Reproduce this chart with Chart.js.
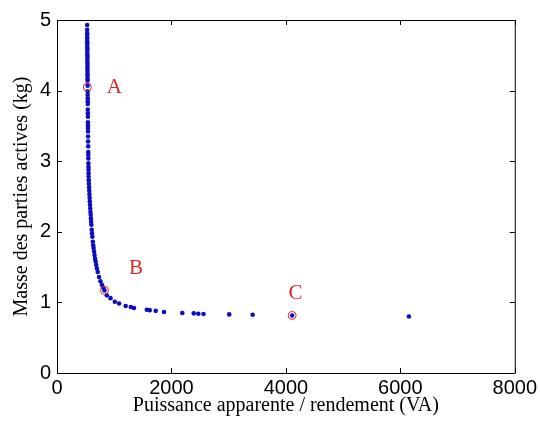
<!DOCTYPE html>
<html>
<head>
<meta charset="utf-8">
<script src="https://cdn.jsdelivr.net/npm/chart.js@4.4.1/dist/chart.umd.min.js"></script>
<style>
  html, body { margin: 0; padding: 0; background: #fff; }
  #graphe { display: block; }
</style>
</head>
<body>
<canvas id="graphe" width="540" height="426"></canvas>
<script>
// Puissance apparente / rendement (VA) et masse des parties actives (kg)
const puissance = [
  527, 527, 528, 528, 528, 529, 529, 529, 530, 530, 530, 531, 531, 531, 532, 532,
  532, 533, 533, 533, 534, 534, 535, 536, 536, 537, 537, 538, 538, 539, 540, 540,
  541, 541, 542, 543, 544, 545, 546, 547, 548, 549, 550, 551, 552, 553, 555,
  558, 561, 564, 567, 570, 573, 577, 581, 585, 589, 593, 597, 601, 607, 612,
  618, 626, 633, 640, 648, 656, 665, 675, 686, 698, 712, 735, 760, 785, 805,
  830, 870, 935, 1010, 1085, 1200, 1290, 1345, 1570, 1620, 1725, 1870,
  2190, 2390, 2470, 2560, 3010, 3420, 4110, 6150
];
const masse = [
  4.93, 4.86, 4.81, 4.78, 4.74, 4.70, 4.67, 4.63, 4.60, 4.56, 4.52, 4.49, 4.46, 4.42, 4.39, 4.35,
  4.32, 4.28, 4.24, 4.21, 4.17, 4.14, 4.07, 3.99, 3.94, 3.89, 3.85, 3.81, 3.73, 3.68, 3.63, 3.55,
  3.51, 3.47, 3.42, 3.35, 3.28, 3.21, 3.13, 3.09, 3.04, 2.97, 2.92, 2.88, 2.83, 2.78, 2.73,
  2.68, 2.63, 2.58, 2.53, 2.48, 2.43, 2.38, 2.33, 2.28, 2.24, 2.19, 2.14, 2.10, 2.03, 1.98,
  1.93, 1.86, 1.81, 1.77, 1.72, 1.67, 1.62, 1.58, 1.53, 1.48, 1.43, 1.36, 1.30, 1.25, 1.21,
  1.17, 1.10, 1.06, 1.01, 0.985, 0.95, 0.935, 0.92, 0.895, 0.89, 0.88, 0.865,
  0.85, 0.845, 0.84, 0.835, 0.83, 0.825, 0.815, 0.80
];

// Points remarquables A, B, C
const nomsPoints = ["A", "B", "C"];
const pointsX = [530, 830, 4110];
const pointsY = [4.05, 1.17, 0.815];
const etiquettesX = [1000, 1380, 4170];
const etiquettesY = [4.04, 1.48, 1.13];

const ticksX = [0, 2000, 4000, 6000, 8000];
const ticksY = [0, 1, 2, 3, 4, 5];

const rouge = "#d42a2a";
const bleu = "#0c0cc0";

// Cadre et graduations vers l'intérieur (style MATLAB)
const cadrePlugin = {
  id: "cadre",
  afterDraw(chart) {
    const ctx = chart.ctx;
    const a = chart.chartArea;
    const sx = chart.scales.x;
    const sy = chart.scales.y;
    const t = 5;
    ctx.save();
    ctx.strokeStyle = "#000";
    ctx.lineWidth = 1;
    ctx.beginPath();
    ctx.rect(a.left + 0.5, a.top + 0.5, a.right - a.left, a.bottom - a.top);
    ticksX.forEach(v => {
      const x = Math.round(sx.getPixelForValue(v)) + 0.5;
      ctx.moveTo(x, a.bottom); ctx.lineTo(x, a.bottom - t);
      ctx.moveTo(x, a.top); ctx.lineTo(x, a.top + t);
    });
    ticksY.forEach(v => {
      const y = Math.round(sy.getPixelForValue(v)) + 0.5;
      ctx.moveTo(a.left, y); ctx.lineTo(a.left + t, y);
      ctx.moveTo(a.right, y); ctx.lineTo(a.right - t, y);
    });
    ctx.stroke();

    // Lettres A, B, C
    ctx.fillStyle = rouge;
    ctx.font = "21px 'Liberation Serif', 'DejaVu Serif', serif";
    ctx.textAlign = "center";
    ctx.textBaseline = "middle";
    nomsPoints.forEach((nom, i) => {
      ctx.fillText(nom, sx.getPixelForValue(etiquettesX[i]), sy.getPixelForValue(etiquettesY[i]));
    });
    ctx.restore();
  }
};

new Chart(document.getElementById("graphe"), {
  type: "scatter",
  data: {
    datasets: [
      {
        label: "Points remarquables",
        data: pointsX.map((x, i) => ({ x: x, y: pointsY[i] })),
        pointStyle: "circle",
        pointRadius: 4,
        borderColor: rouge,
        backgroundColor: "rgba(0,0,0,0)",
        borderWidth: 1
      },
      {
        label: "Masse",
        data: puissance.map((x, i) => ({ x: x, y: masse[i] })),
        pointStyle: "circle",
        pointRadius: 2.3,
        borderWidth: 0,
        backgroundColor: bleu
      }
    ]
  },
  options: {
    responsive: false,
    animation: false,
    devicePixelRatio: 1,
    layout: { padding: { top: 20, right: 24, left: 0, bottom: 0 } },
    plugins: {
      legend: { display: false },
      tooltip: { enabled: false }
    },
    scales: {
      x: {
        type: "linear",
        min: 0,
        max: 8000,
        afterBuildTicks: s => { s.ticks = ticksX.map(v => ({ value: v })); },
        afterFit: s => { s.height = 53; },
        grid: { display: false, drawTicks: false },
        border: { display: false },
        ticks: {
          padding: 3,
          maxRotation: 0,
          color: "#000",
          callback: v => String(v),
          font: { family: "'Liberation Sans', Arial, sans-serif", size: 20 }
        },
        title: {
          display: true,
          text: "Puissance apparente / rendement (VA)",
          color: "#000",
          padding: { top: 0, bottom: 8 },
          font: { family: "'Liberation Serif', 'Times New Roman', serif", size: 20 }
        }
      },
      y: {
        type: "linear",
        min: 0,
        max: 5,
        afterBuildTicks: s => { s.ticks = ticksY.map(v => ({ value: v })); },
        afterFit: s => { s.width = 57; },
        grid: { display: false, drawTicks: false },
        border: { display: false },
        ticks: {
          padding: 6,
          color: "#000",
          callback: v => String(v),
          font: { family: "'Liberation Sans', Arial, sans-serif", size: 20 }
        },
        title: {
          display: true,
          text: "Masse des parties actives (kg)",
          color: "#000",
          padding: { top: 10, bottom: 0 },
          font: { family: "'Liberation Serif', 'Times New Roman', serif", size: 20 }
        }
      }
    }
  },
  plugins: [cadrePlugin]
});
</script>
</body>
</html>
